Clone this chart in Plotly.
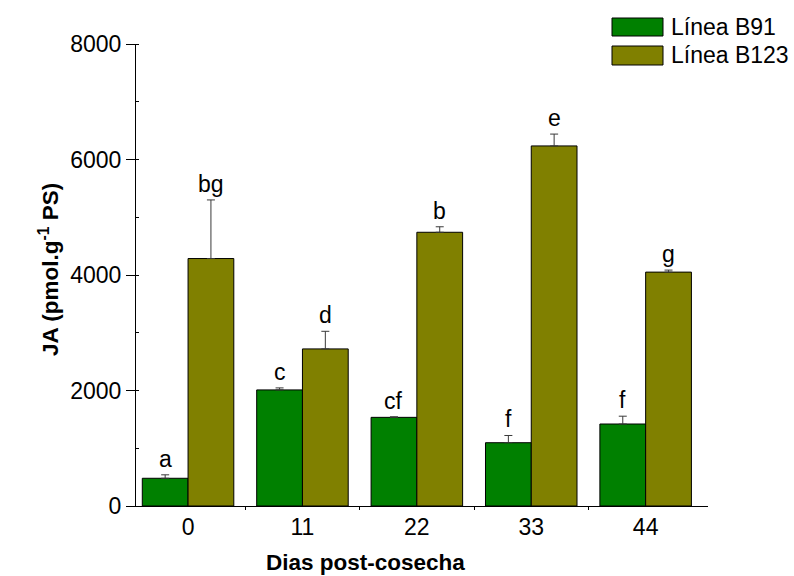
import plotly.graph_objects as go

# Days after harvest and JA content per line (pmol/g dry weight)
dias = ["0", "11", "22", "33", "44"]
b91_vals = [480, 2010, 1535, 1096, 1420]
b91_err = [60, 35, 10, 125, 135]
b123_vals = [4285, 2720, 4740, 6235, 4050]
b123_err = [1015, 305, 95, 205, 35]
b91_letras = ["a", "c", "cf", "f", "f"]
b123_letras = ["bg", "d", "b", "e", "g"]
series_names = ["Línea B91", "Línea B123"]

GREEN = "#008000"
OLIVE = "#808000"
FONT = "Arial, Liberation Sans, sans-serif"
FS = 23

pos = list(range(len(dias)))

fig = go.Figure()
for name, vals, err, color in [
    (series_names[0], b91_vals, b91_err, GREEN),
    (series_names[1], b123_vals, b123_err, OLIVE),
]:
    fig.add_trace(go.Bar(
        x=pos, y=vals, name=name,
        marker=dict(color=color, line=dict(color="#000000", width=1)),
        error_y=dict(type="data", symmetric=False, array=err,
                     arrayminus=[0] * len(err), color="#3a3a3a",
                     thickness=1, width=4),
        showlegend=False,
    ))

# significance letters above each error bar
annotations = []
for letras, vals, err, off in [(b91_letras, b91_vals, b91_err, -0.2),
                               (b123_letras, b123_vals, b123_err, 0.2)]:
    for i, (t, v, e) in enumerate(zip(letras, vals, err)):
        annotations.append(dict(
            x=i + off, y=v + e, xref="x", yref="y", text=t,
            showarrow=False, yanchor="bottom", yshift=1,
            font=dict(family=FONT, size=FS, color="#000000"),
        ))

# plot-area geometry in pixels
L, R, T, B = 136, 86, 44, 70
W, H = 794, 576
pw, ph = W - L - R, H - T - B
def px(x):
    return (x - L) / pw
def py(y):
    return (H - B - y) / ph

# legend drawn as filled boxes with labels at the top right
shapes = []
for (y0, y1), color, name in [((18, 36), GREEN, series_names[0]),
                              ((46, 65), OLIVE, series_names[1])]:
    shapes.append(dict(type="rect", xref="paper", yref="paper",
                       x0=px(612), x1=px(663), y0=py(y1), y1=py(y0),
                       fillcolor=color, line=dict(color="#000000", width=1)))
    annotations.append(dict(x=px(669), y=py((y0 + y1) / 2), xref="paper",
                            yref="paper", text=name, showarrow=False,
                            xanchor="left", yanchor="middle",
                            font=dict(family=FONT, size=FS, color="#000000")))

# axis titles
annotations.append(dict(x=px(365), y=py(562), xref="paper", yref="paper",
                        text="<b>Dias post-cosecha</b>", showarrow=False,
                        xanchor="center", yanchor="middle",
                        font=dict(family=FONT, size=22.5, color="#000000")))
annotations.append(dict(x=px(49), y=py(270), xref="paper", yref="paper",
                        text="<b>JA (pmol.g<sup>-1</sup> PS)</b>",
                        showarrow=False, textangle=-90,
                        xanchor="center", yanchor="middle",
                        font=dict(family=FONT, size=22.5, color="#000000")))

fig.update_layout(
    width=W, height=H,
    margin=dict(l=L, r=R, t=T, b=B),
    paper_bgcolor="white", plot_bgcolor="white",
    barmode="group", bargap=0.2, bargroupgap=0,
    font=dict(family=FONT, size=FS, color="#000000"),
    annotations=annotations, shapes=shapes,
    xaxis=dict(
        range=[-0.455, 4.545], tickvals=pos, ticktext=dias,
        showline=True, linecolor="#000000", linewidth=1,
        ticks="", showgrid=False, zeroline=False, automargin=False,
        tickfont=dict(size=FS),
        minor=dict(tickvals=[0.5, 1.5, 2.5, 3.5], ticks="outside",
                   ticklen=3, tickcolor="#000000"),
    ),
    yaxis=dict(
        range=[0, 8000], tickvals=[0, 2000, 4000, 6000, 8000],
        showline=True, linecolor="#000000", linewidth=1,
        ticks="outside", ticklen=9, tickcolor="#000000",
        showgrid=False, zeroline=False, automargin=False,
        tickfont=dict(size=FS),
        minor=dict(dtick=1000, ticks="inside", ticklen=3,
                   tickcolor="#000000", showgrid=False),
    ),
)

fig.write_html("out.html")
